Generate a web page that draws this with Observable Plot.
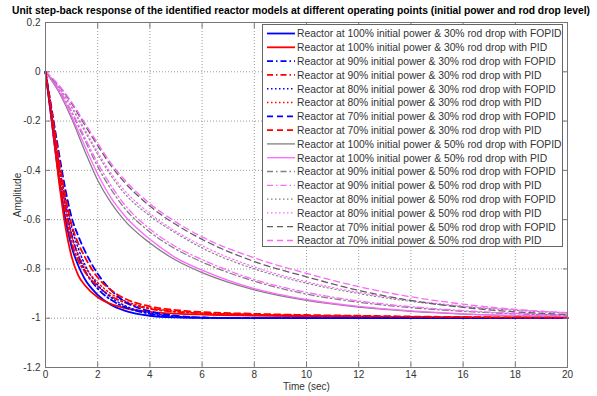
<!DOCTYPE html>
<html>
<head>
<meta charset="utf-8">
<script src="https://cdn.jsdelivr.net/npm/d3@7"></script>
<script src="https://cdn.jsdelivr.net/npm/@observablehq/plot@0.6"></script>
<style>
  body { margin: 0; background: #fff; font-family: "Liberation Sans", Arial, sans-serif; }
  #wrap { position: relative; width: 597px; height: 396px; overflow: hidden; background: #fff; }
  #title { height: 20px; line-height: 20px; white-space: nowrap; font-weight: bold; font-size: 11px; color: #000; }
  #title span { display: inline-block; transform-origin: 0 50%; position: relative; left: 12px; }
  #legend { position: absolute; left: 262px; top: 24px; }
</style>
</head>
<body>
<div id="wrap">
  <div id="title"><span>Unit step-back response of the identified reactor models at different operating points (initial power and rod drop level)</span></div>
  <div id="chart"></div>
  <svg id="legend" width="302" height="224"></svg>
</div>
<script>
// Time grids (s) at which each response was read
const tFast = [0, 0.25, 0.5, 0.75, 1, 1.25, 1.5, 2, 2.5, 3, 4, 5, 6, 8, 10, 12, 14, 16, 18, 20];
const tSlow = [0, 0.5, 1, 1.5, 2, 2.5, 3, 4, 5, 6, 8, 10, 12, 14, 16, 18, 20];

// 30% rod drop responses (sampled on tFast)
const fopid100_30 = [0, -0.21, -0.42, -0.59, -0.71, -0.785, -0.84, -0.905, -0.945, -0.968, -0.99, -0.997, -0.999, -1, -1, -1, -1, -1, -1, -1];
const pid100_30   = [0, -0.21, -0.43, -0.62, -0.75, -0.825, -0.865, -0.915, -0.942, -0.958, -0.974, -0.981, -0.985, -0.989, -0.992, -0.994, -0.996, -0.997, -0.998, -0.999];
const fopid90_30  = [0, -0.19, -0.38, -0.54, -0.66, -0.745, -0.805, -0.88, -0.925, -0.953, -0.982, -0.994, -0.998, -1, -1, -1, -1, -1, -1, -1];
const pid90_30    = [0, -0.19, -0.39, -0.56, -0.69, -0.765, -0.81, -0.87, -0.91, -0.935, -0.962, -0.974, -0.98, -0.986, -0.99, -0.993, -0.995, -0.997, -0.998, -0.999];
const fopid80_30  = [0, -0.18, -0.36, -0.51, -0.63, -0.715, -0.78, -0.865, -0.915, -0.947, -0.978, -0.992, -0.997, -1, -1, -1, -1, -1, -1, -1];
const pid80_30    = [0, -0.18, -0.37, -0.535, -0.665, -0.74, -0.79, -0.855, -0.90, -0.928, -0.958, -0.972, -0.979, -0.985, -0.989, -0.992, -0.995, -0.997, -0.998, -0.999];
const fopid70_30  = [0, -0.16, -0.32, -0.47, -0.59, -0.665, -0.725, -0.82, -0.885, -0.93, -0.972, -0.99, -0.997, -1, -1, -1, -1, -1, -1, -1];
const pid70_30    = [0, -0.17, -0.34, -0.50, -0.62, -0.695, -0.75, -0.835, -0.885, -0.918, -0.952, -0.967, -0.975, -0.982, -0.987, -0.99, -0.993, -0.995, -0.997, -0.998];

// 50% rod drop responses (sampled on tSlow)
const fopid100_50 = [0, -0.08, -0.19, -0.32, -0.44, -0.53, -0.60, -0.695, -0.765, -0.815, -0.885, -0.928, -0.955, -0.972, -0.983, -0.99, -0.994];
const pid100_50   = [0, -0.075, -0.18, -0.30, -0.415, -0.51, -0.58, -0.68, -0.755, -0.805, -0.88, -0.924, -0.952, -0.97, -0.982, -0.989, -0.993];
const fopid90_50  = [0, -0.07, -0.165, -0.275, -0.385, -0.475, -0.55, -0.65, -0.72, -0.772, -0.85, -0.902, -0.935, -0.957, -0.972, -0.982, -0.988];
const pid90_50    = [0, -0.068, -0.16, -0.265, -0.37, -0.46, -0.535, -0.638, -0.71, -0.762, -0.843, -0.895, -0.93, -0.953, -0.969, -0.98, -0.987];
const fopid80_50  = [0, -0.062, -0.145, -0.24, -0.335, -0.42, -0.49, -0.585, -0.655, -0.715, -0.80, -0.858, -0.9, -0.932, -0.953, -0.968, -0.979];
const pid80_50    = [0, -0.06, -0.14, -0.232, -0.325, -0.41, -0.478, -0.575, -0.648, -0.706, -0.792, -0.852, -0.895, -0.928, -0.95, -0.966, -0.977];
const fopid70_50  = [0, -0.055, -0.128, -0.215, -0.3, -0.38, -0.445, -0.545, -0.62, -0.68, -0.77, -0.832, -0.887, -0.928, -0.956, -0.974, -0.985];
const pid70_50    = [0, -0.053, -0.123, -0.207, -0.29, -0.37, -0.435, -0.535, -0.61, -0.67, -0.755, -0.818, -0.872, -0.913, -0.943, -0.964, -0.978];

// Axis ticks
const xTicks = [0, 2, 4, 6, 8, 10, 12, 14, 16, 18, 20];
const yTicks = [0.2, 0, -0.2, -0.4, -0.6, -0.8, -1, -1.2];

// Series in legend order
const series = [
  {name: "Reactor at 100% initial power & 30% rod drop with FOPID", t: tFast, v: fopid100_30, color: "#0000ff", dash: null,        width: 1.8},
  {name: "Reactor at 100% initial power & 30% rod drop with PID",   t: tFast, v: pid100_30,   color: "#ff0000", dash: null,        width: 1.8},
  {name: "Reactor at 90% initial power & 30% rod drop with FOPID",  t: tFast, v: fopid90_30,  color: "#0000ff", dash: "6,3,1.5,3", width: 1.8},
  {name: "Reactor at 90% initial power & 30% rod drop with PID",    t: tFast, v: pid90_30,    color: "#ff0000", dash: "6,3,1.5,3", width: 1.8},
  {name: "Reactor at 80% initial power & 30% rod drop with FOPID",  t: tFast, v: fopid80_30,  color: "#0000ff", dash: "1.5,2.5",   width: 1.4},
  {name: "Reactor at 80% initial power & 30% rod drop with PID",    t: tFast, v: pid80_30,    color: "#ff0000", dash: "1.5,2.5",   width: 1.4},
  {name: "Reactor at 70% initial power & 30% rod drop with FOPID",  t: tFast, v: fopid70_30,  color: "#0000ff", dash: "6,4",       width: 1.8},
  {name: "Reactor at 70% initial power & 30% rod drop with PID",    t: tFast, v: pid70_30,    color: "#ff0000", dash: "6,4",       width: 1.8},
  {name: "Reactor at 100% initial power & 50% rod drop with FOPID", t: tSlow, v: fopid100_50, color: "#808080", dash: null,        width: 1.3},
  {name: "Reactor at 100% initial power & 50% rod drop with PID",   t: tSlow, v: pid100_50,   color: "#ff66ff", dash: null,        width: 1.3},
  {name: "Reactor at 90% initial power & 50% rod drop with FOPID",  t: tSlow, v: fopid90_50,  color: "#808080", dash: "6,3,1.5,3", width: 1.3},
  {name: "Reactor at 90% initial power & 50% rod drop with PID",    t: tSlow, v: pid90_50,    color: "#ff66ff", dash: "6,3,1.5,3", width: 1.3},
  {name: "Reactor at 80% initial power & 50% rod drop with FOPID",  t: tSlow, v: fopid80_50,  color: "#808080", dash: "1.5,2.5",   width: 1.1},
  {name: "Reactor at 80% initial power & 50% rod drop with PID",    t: tSlow, v: pid80_50,    color: "#ff66ff", dash: "1.5,2.5",   width: 1.1},
  {name: "Reactor at 70% initial power & 50% rod drop with FOPID",  t: tSlow, v: fopid70_50,  color: "#606060", dash: "6,4",       width: 1.3},
  {name: "Reactor at 70% initial power & 50% rod drop with PID",    t: tSlow, v: pid70_50,    color: "#ff66ff", dash: "6,4",       width: 1.3}
];

const fmt = d => String(+d.toFixed(1));
const font = "'Liberation Sans', Arial, sans-serif";

// Draw slower (50%) family first so the 30% family sits on top
const drawOrder = [...series.slice(8), ...series.slice(0, 8)];
const lineMarks = drawOrder.map(s => Plot.line(s.t.map((t, i) => ({t, v: s.v[i]})), {
  x: "t", y: "v", stroke: s.color, strokeWidth: s.width,
  strokeDasharray: s.dash, curve: "monotone-x"
}));

const chart = Plot.plot({
  width: 597,
  height: 376,
  marginTop: 2,
  marginBottom: 29,
  marginLeft: 45,
  marginRight: 30,
  style: {fontFamily: font, fontSize: "10px", color: "#333", background: "#fff", overflow: "visible"},
  x: {domain: [0, 20]},
  y: {domain: [-1.2, 0.2]},
  marks: [
    Plot.gridX(xTicks, {stroke: "#9a9a9a", strokeOpacity: 1, strokeDasharray: "1,2"}),
    Plot.gridY(yTicks, {stroke: "#9a9a9a", strokeOpacity: 1, strokeDasharray: "1,2"}),
    ...lineMarks,
    Plot.frame({stroke: "#777"}),
    Plot.axisX(xTicks, {anchor: "bottom", tickSize: -5, tickPadding: 8, tickFormat: fmt, stroke: "#777",
      label: "Time (sec)", labelAnchor: "center", labelArrow: "none", labelOffset: 22}),
    Plot.axisX(xTicks, {anchor: "top", tickSize: -5, tickFormat: () => "", stroke: "#777", label: null}),
    Plot.axisY(yTicks, {anchor: "left", tickSize: -5, tickPadding: 10, tickFormat: fmt, stroke: "#777",
      label: "Amplitude", labelAnchor: "center", labelArrow: "none", labelOffset: 32}),
    Plot.axisY(yTicks, {anchor: "right", tickSize: -5, tickFormat: () => "", stroke: "#777", label: null})
  ]
});
document.getElementById("chart").appendChild(chart);

// Squeeze the title to the plot's full width
const titleSpan = document.querySelector("#title span");
const tw = titleSpan.getBoundingClientRect().width;
titleSpan.style.transform = `scaleX(${578 / tw})`;

// Legend box
const leg = d3.select("#legend");
leg.append("rect").attr("x", 0.5).attr("y", 0.5).attr("width", 300).attr("height", 222)
  .attr("fill", "#fff").attr("stroke", "#666");
const rows = leg.selectAll("g.row").data(series).join("g").attr("class", "row")
  .attr("transform", (d, i) => `translate(0, ${9.5 + i * 13.8})`);
rows.append("line").attr("x1", 5).attr("x2", 33).attr("y1", 0).attr("y2", 0)
  .attr("stroke", d => d.color).attr("stroke-width", d => d.width)
  .attr("stroke-dasharray", d => d.dash);
const labels = rows.append("text").attr("x", 0).attr("y", 0).attr("dy", "0.35em")
  .attr("font-family", font).attr("font-size", 11).attr("fill", "#333")
  .text(d => d.name);
const longest = d3.max(labels.nodes(), n => n.getComputedTextLength());
const sx = 265 / longest;
labels.attr("transform", `translate(35,0) scale(${sx},1)`);
</script>
</body>
</html>
